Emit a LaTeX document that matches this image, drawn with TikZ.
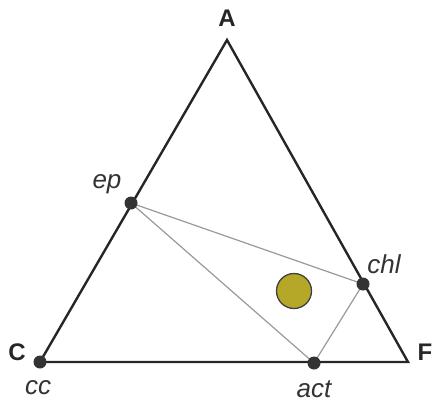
\documentclass[tikz,border=0pt]{standalone}
\usepackage{fontspec}
\setmainfont{Liberation Sans}
\begin{document}
\begin{tikzpicture}[x=1pt,y=-1pt,
  edge/.style={line width=2.4pt,black!85,line join=miter},
  tie/.style={line width=1.2pt,black!40},
  dot/.style={circle,fill=black!80,inner sep=0pt,minimum size=13pt},
  corner/.style={font=\fontsize{24}{24}\selectfont\bfseries,text=black!85},
  phase/.style={font=\fontsize{26}{26}\selectfont\itshape,text=black!80},
  bulk/.style={circle,draw=black!75,line width=1.3pt,fill={rgb,255:red,181;green,168;blue,40},minimum size=35pt,inner sep=0pt}]
\useasboundingbox (0,0) rectangle (433,404);
\coordinate (A) at (227,40);
\coordinate (C) at (40,362);
\coordinate (F) at (408,362);
\draw[edge] (A) -- (C) -- (F) -- cycle;
\coordinate (epc) at (131,203);
\coordinate (chlc) at (363,284);
\coordinate (actc) at (314,363);
\draw[tie] (epc) -- (chlc) -- (actc) -- (epc);
\node[dot] (ep) at (epc) {};
\node[dot] (chl) at (chlc) {};
\node[dot] (act) at (actc) {};
\node[dot] (cc) at (C) {};
\node[bulk] (bulk) at (294,291) {};
\node[corner] (la) at (227,18) {A};
\node[corner] (lc) at (17,352) {C};
\node[corner] (lf) at (425,352) {F};
\node[phase] (tcc) at (38,388) {cc};
\node[phase] (tact) at (314,389) {act};
\node[phase] (tchl) at (384,264) {chl};
\node[phase] (tep) at (107,184) {ep};
\end{tikzpicture}
\end{document}
